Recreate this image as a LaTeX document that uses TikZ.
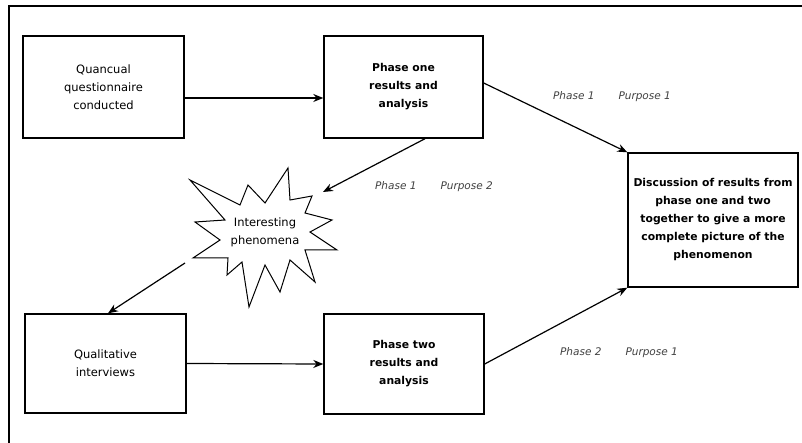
\documentclass[tikz,border=0pt]{standalone}
\usepackage{fontspec}
\setmainfont{DejaVu Sans}
\usetikzlibrary{arrows.meta}
\begin{document}
\begin{tikzpicture}[x=1pt,y=-1pt,
  box/.style={draw, line width=1.4pt, align=center, inner sep=2pt},
  regtext/.style={font=\fontsize{11.5}{18}\selectfont},
  boldtext/.style={font=\fontsize{10.8}{18}\selectfont\bfseries},
  lbl/.style={font=\fontsize{10.5}{12}\selectfont\itshape, text=black!75, inner sep=0pt},
  conn/.style={line width=1.2pt, -{Stealth[length=10pt,width=8pt]}},
  frame/.style={line width=1.5pt},
  starline/.style={line width=1pt}]
\useasboundingbox (0,0) rectangle (802,443);
\draw[frame] (9,443) -- (9,6) -- (802,6);

\node[box, regtext, minimum width=161pt, minimum height=102pt] (b1) at (103.5,87) {Quancual\\questionnaire\\conducted};
\node[box, boldtext, minimum width=159pt, minimum height=102pt] (b2) at (403.5,87) {Phase one\\results and\\analysis};
\node[box, boldtext, minimum width=170pt, minimum height=134pt] (b3) at (713,220) {Discussion of results from\\phase one and two\\together to give a more\\complete picture of the\\phenomenon};
\node[box, regtext, minimum width=161pt, minimum height=99pt] (b4) at (105.5,363.5) {Qualitative\\interviews};
\node[box, boldtext, minimum width=160pt, minimum height=100pt] (b5) at (404,364) {Phase two\\results and\\analysis};

\draw[starline] (190,180) -- (240,205) -- (248,185) -- (265,203) -- (288,168) -- (290,200)
  -- (312,196) -- (305,213) -- (332,220) -- (310,232) -- (337,250) -- (305,250)
  -- (315,282) -- (290,260) -- (280,292) -- (265,265) -- (249,307) -- (242,262)
  -- (227,275) -- (228,258) -- (193,258) -- (220,240) -- (195,222) -- (225,220) -- cycle;
\node[regtext, align=center, inner sep=0pt] (star) at (265,232) {Interesting\\phenomena};
\coordinate (sin) at (323,192);
\coordinate (sout) at (185,263);

\draw[conn] ([yshift=-11pt]b1.east) -- ([yshift=-11pt]b2.west);
\draw[conn] ([yshift=4pt]b2.east) -- (b3.north west);
\draw[conn] ([xshift=21.5pt]b2.south) -- (sin);
\draw[conn] (sout) -- ([xshift=2.5pt]b4.north);
\draw[conn] (b4.east) -- (b5.west);
\draw[conn] (b5.east) -- (b3.south west);

\node[lbl] (l1) at (612,97) {Phase 1\hspace{24pt}Purpose 1};
\node[lbl] (l2) at (434,187) {Phase 1\hspace{24pt}Purpose 2};
\node[lbl] (l3) at (619,353) {Phase 2\hspace{24pt}Purpose 1};
\end{tikzpicture}
\end{document}
